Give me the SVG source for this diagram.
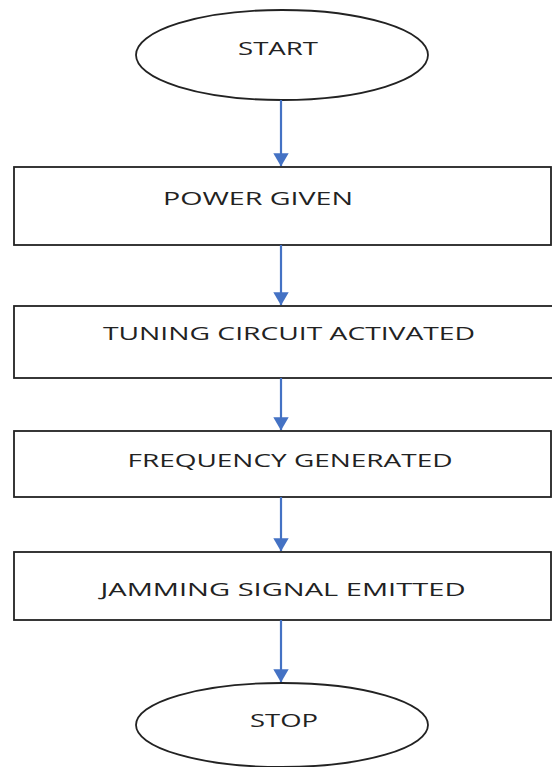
<svg xmlns="http://www.w3.org/2000/svg" width="552" height="767" viewBox="0 0 552 767">
<defs>
<style>
.shape{fill:#fff;stroke:#222;stroke-width:1.8}
.lbl{font-family:"Open Sans","Noto Sans",sans-serif;font-size:18px;fill:#222;text-anchor:middle}
.conn{stroke:#4472C4;stroke-width:2.2;fill:none}
</style>
<marker id="ah" markerWidth="6" markerHeight="7" refX="5.8" refY="3.5" orient="auto" markerUnits="strokeWidth">
<path d="M0,0 L6,3.5 L0,7 Z" fill="#4472C4"/>
</marker>
</defs>
<rect width="552" height="767" fill="#fff"/>
<g id="start">
<ellipse class="shape" cx="282" cy="55" rx="146" ry="45"/>
<text class="lbl" x="278" y="55" textLength="80" lengthAdjust="spacingAndGlyphs">START</text>
</g>
<g id="power">
<rect class="shape" x="14" y="167" width="537" height="78"/>
<text class="lbl" x="258" y="205" textLength="190" lengthAdjust="spacingAndGlyphs">POWER GIVEN</text>
</g>
<g id="tuning">
<rect class="shape" x="14" y="306" width="545" height="72"/>
<text class="lbl" x="289" y="340" textLength="372" lengthAdjust="spacingAndGlyphs">TUNING CIRCUIT ACTIVATED</text>
</g>
<g id="frequency">
<rect class="shape" x="14" y="431" width="537" height="66"/>
<text class="lbl" x="290" y="467" textLength="325" lengthAdjust="spacingAndGlyphs">FREQUENCY GENERATED</text>
</g>
<g id="jamming">
<rect class="shape" x="14" y="552" width="537" height="68"/>
<text class="lbl" x="283" y="596" textLength="365" lengthAdjust="spacingAndGlyphs">JAMMING SIGNAL EMITTED</text>
</g>
<g id="stop">
<ellipse class="shape" cx="282" cy="725" rx="146" ry="42"/>
<text class="lbl" x="284" y="727" textLength="68" lengthAdjust="spacingAndGlyphs">STOP</text>
</g>
<g id="connectors">
<line class="conn" x1="281" y1="100" x2="281" y2="166" marker-end="url(#ah)"/>
<line class="conn" x1="281" y1="245" x2="281" y2="305" marker-end="url(#ah)"/>
<line class="conn" x1="281" y1="378" x2="281" y2="430" marker-end="url(#ah)"/>
<line class="conn" x1="281" y1="497" x2="281" y2="551" marker-end="url(#ah)"/>
<line class="conn" x1="281" y1="620" x2="281" y2="682" marker-end="url(#ah)"/>
</g>
</svg>
